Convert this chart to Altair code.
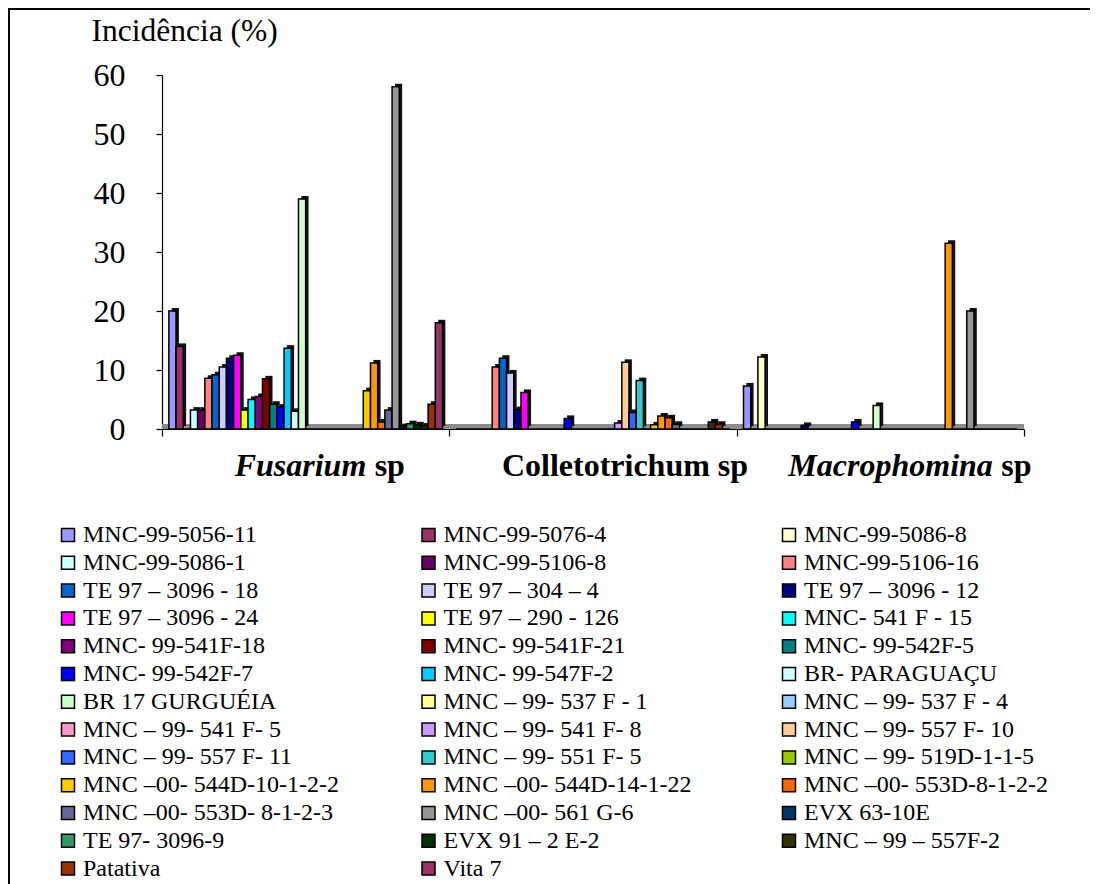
import altair as alt
import pandas as pd

categories = ["Fusarium sp", "Colletotrichum sp", "Macrophomina sp"]

genotypes = [
    "MNC-99-5056-11", "MNC-99-5076-4", "MNC-99-5086-8",
    "MNC-99-5086-1", "MNC-99-5106-8", "MNC-99-5106-16",
    "TE 97 – 3096 - 18", "TE 97 – 304 – 4", "TE 97 – 3096 - 12",
    "TE 97 – 3096 - 24", "TE 97 – 290 - 126", "MNC- 541 F - 15",
    "MNC- 99-541F-18", "MNC- 99-541F-21", "MNC- 99-542F-5",
    "MNC- 99-542F-7", "MNC- 99-547F-2", "BR- PARAGUAÇU",
    "BR 17 GURGUÉIA", "MNC – 99- 537 F - 1", "MNC – 99- 537 F - 4",
    "MNC – 99- 541 F- 5", "MNC – 99- 541 F- 8", "MNC – 99- 557 F- 10",
    "MNC – 99- 557 F- 11", "MNC – 99- 551 F- 5", "MNC – 99- 519D-1-1-5",
    "MNC –00- 544D-10-1-2-2", "MNC –00- 544D-14-1-22", "MNC –00- 553D-8-1-2-2",
    "MNC –00- 553D- 8-1-2-3", "MNC –00- 561 G-6", "EVX 63-10E",
    "TE 97- 3096-9", "EVX 91 – 2 E-2", "MNC – 99 – 557F-2",
    "Patativa", "Vita 7",
]

colors = [
    "#9999FF", "#993366", "#FFFFCC", "#CCFFFF", "#660066", "#FF8080",
    "#0066CC", "#CCCCFF", "#000080", "#FF00FF", "#FFFF00", "#00FFFF",
    "#800080", "#800000", "#008080", "#0000FF", "#00CCFF", "#CCFFFF",
    "#CCFFCC", "#FFFF99", "#99CCFF", "#FF99CC", "#CC99FF", "#FFCC99",
    "#3366FF", "#33CCCC", "#99CC00", "#FFCC00", "#FF9900", "#FF6600",
    "#666699", "#969696", "#003366", "#339966", "#003300", "#333300",
    "#993300", "#993366",
]

fusarium = [20, 14, 0, 3.2, 3.2, 8.6, 9.2, 10.5, 12, 12.5,
            3.2, 5, 5.5, 8.5, 4.2, 3.7, 13.7, 3, 39, 0,
            0, 0, 0, 0, 0, 0, 0, 6.5, 11.2, 1.2,
            3.2, 58, 0.4, 0.9, 0.7, 0.5, 4.2, 18]
colletotrichum = [0, 0, 0, 0, 0, 10.5, 12, 9.5, 3.3, 6.2,
                  0, 0, 0, 0, 0, 1.8, 0, 0, 0, 0,
                  0, 0, 1.0, 11.3, 2.8, 8.2, 0, 0.7, 2.2, 1.9,
                  0.8, 0, 0, 0, 0, 1.2, 0.8, 0]
macrophomina = [7.3, 0, 12.2, 0, 0, 0, 0, 0, 0.6, 0,
                0, 0, 0, 0, 0, 1.2, 0, 0, 4, 0,
                0, 0, 0, 0, 0, 0, 0, 0, 31.5, 0,
                0, 20, 0, 0, 0, 0, 0, 0]

y_ticks = [0, 10, 20, 30, 40, 50, 60]

rows = []
for cat, vals in zip(categories, [fusarium, colletotrichum, macrophomina]):
    for g, v in zip(genotypes, vals):
        rows.append({"categoria": cat, "genotipo": g, "incidencia": v})
df = pd.DataFrame(rows)

FONT = "Liberation Serif"

x_enc = alt.X(
    "categoria:N", sort=categories,
    scale=alt.Scale(paddingInner=0, paddingOuter=0),
    axis=alt.Axis(labels=False, title=None, tickBand="extent", tickSize=7,
                  tickColor="black", domainColor="black", domainWidth=1.2,
                  tickWidth=1.2, grid=False),
)
y_enc = alt.Y(
    "incidencia:Q",
    scale=alt.Scale(domain=[0, 60], nice=False),
    axis=alt.Axis(values=y_ticks, tickSize=6, tickColor="black", tickWidth=1.2,
                  domainColor="black", domainWidth=1.2, grid=False,
                  labelFont=FONT, labelFontSize=32, labelColor="black",
                  labelPadding=31,
                  title="Incidência (%)", titleAngle=0, titleX=-71, titleY=-35,
                  titleAlign="left", titleBaseline="alphabetic",
                  titleFont=FONT, titleFontSize=31.5, titleFontWeight="normal",
                  titleColor="black"),
)

base = alt.Chart(df)

floor = alt.Chart(pd.DataFrame({"a": [0]})).mark_rule(
    color="#8c8c8c", strokeWidth=5, yOffset=-2.5
).encode(y=alt.datum(0))

shadow = base.mark_bar(color="#111111", yOffset=-3).encode(
    x=x_enc,
    xOffset=alt.XOffset("genotipo:N", sort=genotypes,
                        scale=alt.Scale(paddingOuter=0.95, paddingInner=0, align=0.71)),
    y=y_enc,
)

bars = base.mark_bar(stroke="black", strokeWidth=1.5).encode(
    x=x_enc,
    xOffset=alt.XOffset("genotipo:N", sort=genotypes,
                        scale=alt.Scale(paddingOuter=0.95, paddingInner=0, align=0.5)),
    y=y_enc,
    color=alt.Color(
        "genotipo:N",
        scale=alt.Scale(domain=genotypes, range=colors),
        legend=alt.Legend(
            title=None, orient="none", legendX=-106, legendY=448,
            columns=3, direction="horizontal", gridAlign="all",
            symbolType="square", symbolSize=169, symbolStrokeColor="black",
            symbolStrokeWidth=1.5, symbolOpacity=1, symbolLimit=50,
            labelFont=FONT, labelFontSize=24, labelColor="black",
            labelLimit=400, labelOffset=3, columnPadding=77.5, rowPadding=3.8,
        ),
    ),
)

one = pd.DataFrame({"a": [0]})
LBL_Y = 401


def cat_text(cat, text, dx, italic, align):
    return alt.Chart(one).mark_text(
        text=text, font=FONT, fontSize=32, fontWeight="bold",
        fontStyle="italic" if italic else "normal", align=align,
        baseline="alphabetic", dx=dx, color="black",
    ).encode(x=alt.datum(cat), y=alt.value(LBL_Y))


labels = [
    cat_text("Fusarium sp", "Fusarium", -71, True, "left"),
    cat_text("Fusarium sp", "sp", 69, False, "left"),
    cat_text("Colletotrichum sp", "Colletotrichum sp", 32, False, "center"),
    cat_text("Macrophomina sp", "Macrophomina", -92, True, "left"),
    cat_text("Macrophomina sp", "sp", 121, False, "left"),
]

frame_left = alt.Chart(one).mark_rule(color="black", strokeWidth=2).encode(
    x=alt.value(-153), y=alt.value(-66), y2=alt.value(900))
frame_top = alt.Chart(one).mark_rule(color="black", strokeWidth=2).encode(
    x=alt.value(-154), x2=alt.value(1000), y=alt.value(-66))

chart = alt.layer(
    floor, shadow, bars, *labels, frame_left, frame_top
).resolve_scale(
    xOffset="independent"
).properties(
    width=862, height=354,
    padding={"left": 154, "top": 67, "right": 66, "bottom": 455},
    autosize=alt.AutoSizeParams(type="none"),
    background="white",
).configure_view(strokeWidth=0)

chart.save("out.html", embed_options={"renderer": "svg", "actions": False})
